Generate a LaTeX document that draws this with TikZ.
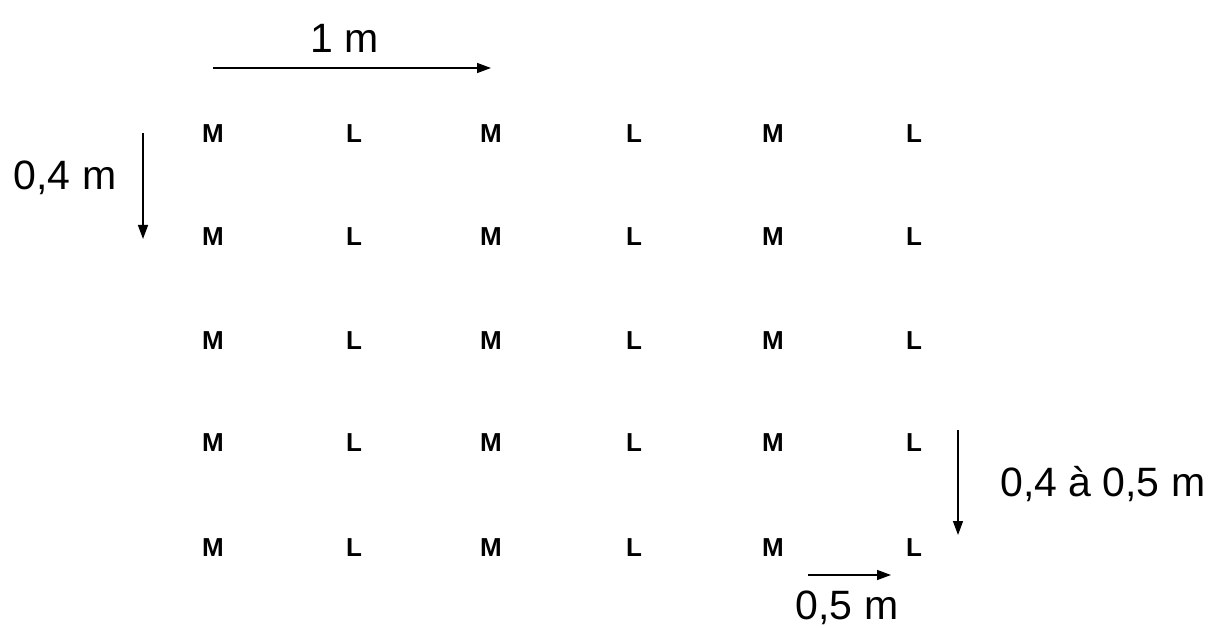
\documentclass[tikz,border=0pt]{standalone}
\usepackage{fontspec}
\setmainfont{Liberation Sans}
\usetikzlibrary{arrows.meta}
\begin{document}
\begin{tikzpicture}[x=1pt,y=-1pt,
  plant/.style={inner sep=0pt,font=\fontsize{26}{26}\selectfont\bfseries},
  dim/.style={inner sep=0pt,font=\fontsize{41}{41}\selectfont},
  dimarrow/.style={line width=1.4pt,-{Triangle[length=14pt,width=10pt]}}]
\useasboundingbox (0,0) rectangle (1216,628);
\foreach \r/\y in {1/134,2/237,3/341,4/443,5/548}{
  \node[plant] (m1\r) at (213,\y) {M};
  \node[plant] (l1\r) at (354,\y) {L};
  \node[plant] (m2\r) at (491,\y) {M};
  \node[plant] (l2\r) at (634,\y) {L};
  \node[plant] (m3\r) at (773,\y) {M};
  \node[plant] (l3\r) at (914,\y) {L};
}
\coordinate (ta) at (213,68);
\coordinate (tb) at (491,68);
\draw[dimarrow] (ta) -- (tb);
\node[dim] (tl) at (345,38) {1 m};
\coordinate (la) at (143,133);
\coordinate (lb) at (143,239);
\draw[dimarrow] (la) -- (lb);
\node[dim] (ll) at (65,178) {0,4 m};
\coordinate (ra) at (958,430);
\coordinate (rb) at (958,535);
\draw[dimarrow] (ra) -- (rb);
\node[dim,anchor=west] (rl) at (1000,484) {0,4 à 0,5 m};
\coordinate (ba) at (808,575);
\coordinate (bb) at (891,575);
\draw[dimarrow] (ba) -- (bb);
\node[dim] (bl) at (847,608) {0,5 m};
\end{tikzpicture}
\end{document}
